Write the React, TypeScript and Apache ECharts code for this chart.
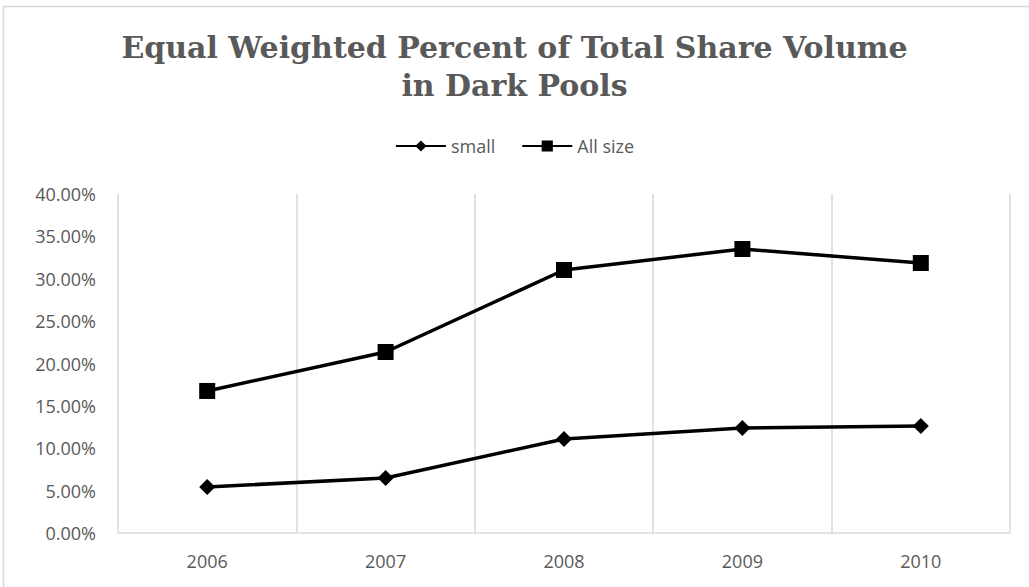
import React, { useEffect, useRef } from "react";
import * as echarts from "echarts";

const categories = ["2006", "2007", "2008", "2009", "2010"];
const smallValues = [5.43, 6.49, 11.09, 12.39, 12.63];
const allSizeValues = [16.76, 21.36, 31.03, 33.51, 31.86];
const titleText = "Equal Weighted Percent of Total Share Volume\nin Dark Pools";
const seriesNames = ["small", "All size"];

export default function App() {
  const ref = useRef<HTMLDivElement>(null);
  useEffect(() => {
    if (!ref.current) return;
    const chart = echarts.init(ref.current, null, { renderer: "svg" });
    const grey = "#595959";
    const gridGrey = "#d9d9d9";
    chart.setOption({
      animation: false,
      backgroundColor: "#ffffff",
      title: {
        text: titleText,
        left: "center",
        top: 23,
        textStyle: {
          fontFamily: "DejaVu Serif",
          fontWeight: "bold",
          fontSize: 30,
          color: grey,
          lineHeight: 38,
          align: "center",
        },
      },
      legend: {
        top: 132,
        left: "center",
        itemWidth: 50,
        itemHeight: 14,
        itemGap: 26,
        textStyle: { fontFamily: "Open Sans", fontSize: 18, color: grey },
        data: seriesNames,
      },
      grid: { left: 118, right: 19, top: 194, bottom: 54 },
      xAxis: {
        type: "category",
        data: categories,
        boundaryGap: true,
        axisLine: { show: true, lineStyle: { color: gridGrey, width: 1.5 } },
        axisTick: { show: false },
        splitLine: { show: true, lineStyle: { color: gridGrey, width: 1.5 } },
        axisLabel: {
          fontFamily: "Open Sans",
          fontSize: 18,
          color: grey,
          margin: 19,
        },
      },
      yAxis: {
        type: "value",
        min: 0,
        max: 40,
        interval: 5,
        axisLine: { show: false },
        axisTick: { show: false },
        splitLine: { show: false },
        axisLabel: {
          fontFamily: "Open Sans",
          fontSize: 18,
          color: grey,
          margin: 22,
          formatter: (v: number) => v.toFixed(2) + "%",
        },
      },
      graphic: [
        {
          type: "rect",
          shape: { x: 3.5, y: 6.5, width: 1100, height: 700 },
          style: { fill: "none", stroke: gridGrey, lineWidth: 1.5 },
          silent: true,
        },
      ],
      series: [
        {
          name: seriesNames[0],
          type: "line",
          data: smallValues,
          symbol: "diamond",
          symbolSize: 16,
          lineStyle: { color: "#000000", width: 3.5 },
          itemStyle: { color: "#000000" },
        },
        {
          name: seriesNames[1],
          type: "line",
          data: allSizeValues,
          symbol: "rect",
          symbolSize: 16,
          lineStyle: { color: "#000000", width: 3.5 },
          itemStyle: { color: "#000000" },
        },
      ],
    });
    return () => chart.dispose();
  }, []);
  return (
    <div
      ref={ref}
      style={{ position: "fixed", left: 0, top: 0, width: 1029, height: 587 }}
    />
  );
}
